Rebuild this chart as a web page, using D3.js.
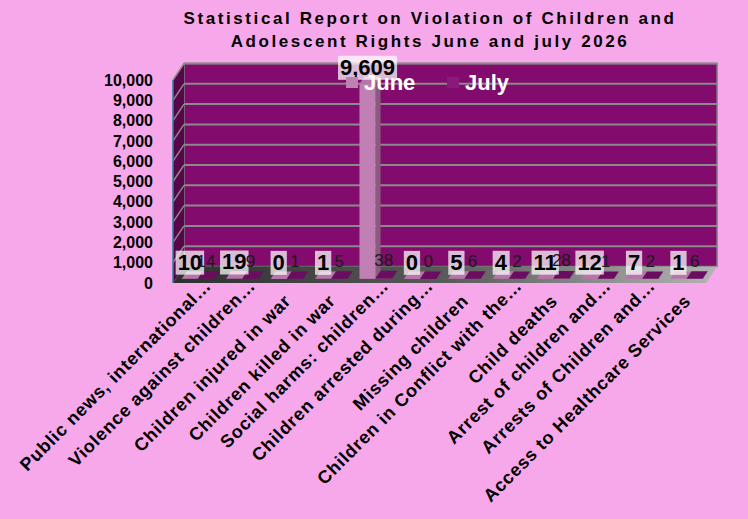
<!DOCTYPE html>
<html>
<head>
<meta charset="utf-8">
<script src="https://cdn.jsdelivr.net/npm/d3@7"></script>
<style>
  body { margin: 0; background: #f7a8ea; }
  svg { display: block; font-family: "Liberation Sans", Arial, sans-serif; }
</style>
</head>
<body>
<svg id="chart" width="748" height="519"></svg>
<script>
// categories as shown on the axis (Excel cut the long ones)
const categories = [
  "Public news, international…",
  "Violence against children…",
  "Children injured in war",
  "Children killed in war",
  "Social harms: children…",
  "Children arrested during…",
  "Missing children",
  "Children in Conflict with the…",
  "Child deaths",
  "Arrest of children and…",
  "Arrests of Children and…",
  "Access to Healthcare Services"
];
const series = ["June", "July"];
const june = [10, 19, 0, 1, 9609, 0, 5, 4, 11, 12, 7, 1];
const july = [14, 9, 1, 5, 38, 0, 6, 2, 28, 1, 2, 6];
const yTicks = [0, 1000, 2000, 3000, 4000, 5000, 6000, 7000, 8000, 9000, 10000];

const titleLines = [
  "Statistical Report on Violation of Children and",
  "Adolescent Rights June and july 2026"
];

// plot box (front plane) and depth vector
const plotLeft = 173, plotRight = 706, plotBottom = 283, plotTop = 80;
const depthX = 11, depthY = -16.5;

const colors = {
  June: { front: "#c080b4", top: "#b676a9", side: "#8a5a80" },
  July: { front: "#8a1a7a", top: "#6a0c60", side: "#4e0846" }
};

const svg = d3.select("#chart");

const x = d3.scaleBand()
  .domain(categories)
  .range([plotLeft, plotRight])
  .padding(0);

const xs = d3.scaleBand()
  .domain(series)
  .range([0, x.bandwidth()])
  .paddingInner(0)
  .paddingOuter(0.375);

const y = d3.scaleLinear()
  .domain([0, 10000])
  .range([plotBottom, plotTop]);

// gradient for floor
const defs = svg.append("defs");
const fg = defs.append("linearGradient").attr("id", "floorGrad")
  .attr("x1", "0").attr("x2", "1").attr("y1", "0").attr("y2", "0");
fg.append("stop").attr("offset", "0").attr("stop-color", "#2e2e2e");
fg.append("stop").attr("offset", "0.5").attr("stop-color", "#5a5a5a");
fg.append("stop").attr("offset", "1").attr("stop-color", "#b4b4b4");

// title
svg.append("g").selectAll("text")
  .data(titleLines)
  .enter()
  .append("text")
  .attr("x", 430)
  .attr("y", (d, i) => 24 + i * 23)
  .attr("text-anchor", "middle")
  .attr("font-size", 17)
  .attr("font-weight", "bold")
  .attr("letter-spacing", 2.6)
  .attr("fill", "#000")
  .text(d => d);

// back wall
svg.append("rect")
  .attr("x", plotLeft + depthX)
  .attr("y", plotTop + depthY)
  .attr("width", plotRight - plotLeft)
  .attr("height", plotBottom - plotTop)
  .attr("fill", "#820b6d")
  .attr("stroke", "#7a7a7a")
  .attr("stroke-width", 1.5);

// left side wall
svg.append("path")
  .attr("d", `M${plotLeft},${plotTop} L${plotLeft + depthX},${plotTop + depthY} L${plotLeft + depthX},${plotBottom + depthY} L${plotLeft},${plotBottom} Z`)
  .attr("fill", "#570649");

// grid lines (back wall + side wall)
const grid = svg.append("g");
grid.selectAll("line.back")
  .data(yTicks.slice(1))
  .enter()
  .append("line")
  .attr("x1", plotLeft + depthX)
  .attr("x2", plotRight + depthX)
  .attr("y1", d => y(d) + depthY)
  .attr("y2", d => y(d) + depthY)
  .attr("stroke", "#8a8a8a")
  .attr("stroke-width", 2);
grid.selectAll("line.side")
  .data(yTicks.slice(1))
  .enter()
  .append("line")
  .attr("x1", plotLeft)
  .attr("x2", plotLeft + depthX)
  .attr("y1", d => y(d))
  .attr("y2", d => y(d) + depthY)
  .attr("stroke", "#8a8a8a")
  .attr("stroke-width", 1.5);

// floor
svg.append("path")
  .attr("d", `M${plotLeft},${plotBottom} L${plotLeft + depthX},${plotBottom + depthY} L${plotRight + depthX},${plotBottom + depthY} L${plotRight},${plotBottom} Z`)
  .attr("fill", "url(#floorGrad)");
svg.append("line")
  .attr("x1", plotLeft).attr("x2", plotRight)
  .attr("y1", plotBottom + 0.5).attr("y2", plotBottom + 0.5)
  .attr("stroke", "#c8c8c8")
  .attr("stroke-width", 1);

// y axis line (front left edge)
svg.append("line")
  .attr("x1", plotLeft).attr("x2", plotLeft)
  .attr("y1", plotTop).attr("y2", plotBottom)
  .attr("stroke", "#2a7fa0")
  .attr("stroke-width", 1.5);

// y axis labels
const yAxis = svg.append("g")
  .attr("transform", "translate(" + (plotLeft - 20) + ",0)")
  .call(d3.axisLeft(y).tickValues(yTicks).tickFormat(d3.format(",")).tickSize(0).tickPadding(0));
yAxis.select(".domain").remove();
yAxis.selectAll("text")
  .attr("font-family", "Liberation Sans, Arial, sans-serif")
  .attr("font-size", 16)
  .attr("font-weight", "bold")
  .attr("fill", "#000");

// bars (front face sits a little behind the front plane)
const f0 = 0.25, f1 = 0.7;
const bx = depthX * f0, by = depthY * f0;
const ddx = depthX * (f1 - f0), ddy = depthY * (f1 - f0);

const rows = [];
categories.forEach((c, i) => {
  rows.push({ cat: c, key: "June", value: june[i] });
  rows.push({ cat: c, key: "July", value: july[i] });
});

const bars = svg.append("g").selectAll("g")
  .data(rows)
  .enter()
  .append("g");

bars.each(function(d) {
  const g = d3.select(this);
  const x0 = x(d.cat) + xs(d.key) + bx;
  const x1 = x0 + xs.bandwidth();
  const t = y(d.value) + by;
  const b = y(0) + by;
  const col = colors[d.key];
  g.append("path")
    .attr("d", `M${x1},${t} L${x1 + ddx},${t + ddy} L${x1 + ddx},${b + ddy} L${x1},${b} Z`)
    .attr("fill", col.side);
  g.append("rect")
    .attr("x", x0).attr("y", t)
    .attr("width", x1 - x0).attr("height", Math.max(0, b - t))
    .attr("fill", col.front);
  g.append("path")
    .attr("d", `M${x0},${t} L${x1},${t} L${x1 + ddx},${t + ddy} L${x0 + ddx},${t + ddy} Z`)
    .attr("fill", col.top);
});

// data labels
const fmt = d3.format(",");
const labels = svg.append("g");
rows.forEach(d => {
  const cx = x(d.cat) + xs(d.key) + bx + xs.bandwidth() / 2;
  const t = y(d.value) + by;
  if (d.key === "June") {
    const txt = labels.append("text")
      .attr("x", cx)
      .attr("y", t - 9)
      .attr("text-anchor", "middle")
      .attr("font-size", 22)
      .attr("font-weight", "bold")
      .attr("fill", "#000")
      .text(fmt(d.value));
    const bb = txt.node().getBBox();
    labels.insert("rect", () => txt.node())
      .attr("x", bb.x - 2)
      .attr("y", bb.y + 1)
      .attr("width", bb.width + 4)
      .attr("height", bb.height - 1)
      .attr("fill", "#ffffff")
      .attr("fill-opacity", 0.72);
  } else {
    labels.append("text")
      .attr("x", cx)
      .attr("y", t - 12)
      .attr("text-anchor", "middle")
      .attr("font-size", 17)
      .attr("fill", "#1a1a1a")
      .text(fmt(d.value));
  }
});

// x axis labels, rotated
svg.append("g").selectAll("text")
  .data(categories)
  .enter()
  .append("text")
  .attr("transform", d => {
    const c = x(d) + x.bandwidth() / 2;
    const cut = d.endsWith("…");
    const px = c + (cut ? 17 : 8);
    const py = cut ? 287 : 302;
    return "translate(" + px + "," + py + ") rotate(-45)";
  })
  .attr("text-anchor", "end")
  .attr("font-size", 18)
  .attr("font-weight", "bold")
  .attr("letter-spacing", 0.8)
  .attr("fill", "#000")
  .text(d => d);

// legend
const legend = svg.append("g").selectAll("g")
  .data(series)
  .enter()
  .append("g")
  .attr("transform", (d, i) => "translate(" + (346 + i * 101) + ",77)");
legend.append("rect")
  .attr("width", 12).attr("height", 11)
  .attr("fill", d => colors[d].front);
legend.append("text")
  .attr("x", 18)
  .attr("y", 13)
  .attr("font-size", 22)
  .attr("font-weight", "bold")
  .attr("fill", "#fff")
  .text(d => d);
</script>
</body>
</html>
